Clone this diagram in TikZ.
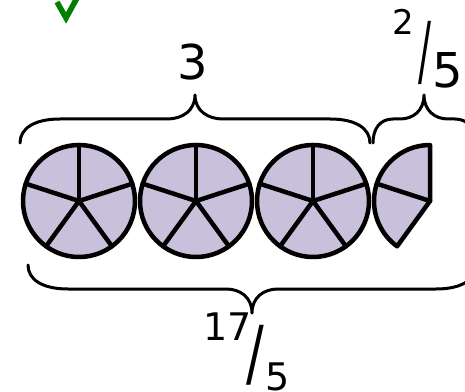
\documentclass[tikz,border=0pt]{standalone}
\usepackage{fontspec}
\setmainfont{DejaVu Sans}
\definecolor{lav}{RGB}{201,192,219}
\definecolor{okgreen}{RGB}{0,128,0}
\newcommand{\mybrace}[7]{%
  \pgfmathsetmacro\xc{(#1+#2)/2}%
  \draw[bracestyle] (#1,#3) .. controls (#1,{#3+0.6*(#4-#3)}) and ({#1+0.35*#6},#4) .. ({#1+#6},#4)
    -- ({\xc-#7},#4) .. controls ({\xc-0.45*#7},#4) and (\xc,{#4+0.35*(#5-#4)}) .. (\xc,#5)
    .. controls (\xc,{#4+0.35*(#5-#4)}) and ({\xc+0.45*#7},#4) .. ({\xc+#7},#4)
    -- ({#2-#6},#4) .. controls ({#2-0.35*#6},#4) and (#2,{#3+0.6*(#4-#3)}) .. (#2,#3);}
\newcommand{\glyphat}[4]{\hspace*{#1}\makebox[0pt]{\raisebox{#2}{\fontsize{#3}{#3}\selectfont #4}}}
\begin{document}
\begin{tikzpicture}[x=1pt,y=1pt,
  bracestyle/.style={line width=3pt,line cap=round,line join=round},
  pie/.style={line width=4.5pt,line join=round,line cap=round},
  numtxt/.style={inner sep=0pt}]
\useasboundingbox (0,0) rectangle (465,391);
\clip (0,0) rectangle (465,391);
% circles
\foreach \i/\cx in {1/79,2/196,3/313}{
  \coordinate (c\i) at (\cx,190);
  \fill[lav] (c\i) circle (56);
  \foreach \a in {90,162,234,306,18}
    \draw[pie] (c\i) -- ++(\a:56);
  \draw[pie] (c\i) circle (56);
}
% two fifths
\coordinate (w) at (430,190);
\filldraw[pie,fill=lav] (w) -- ++(90:56) arc (90:234:56) -- cycle;
\draw[pie] (w) -- ++(162:56);
% braces
\mybrace{20}{370}{248}{272}{296}{40}{28}
\mybrace{373}{475}{248}{272}{296}{20}{24}
\mybrace{28}{476}{126}{102}{78}{40}{26}
% labels
\node[numtxt,anchor=center,font=\fontsize{48}{48}\selectfont] (n3) at (193,329) {3};
\node[numtxt,anchor=base west] (f1) at (390,303)
  {\glyphat{13pt}{53pt}{34}{2}\glyphat{21.5pt}{10pt}{77}{\scalebox{0.5}[1]{/}}\glyphat{23pt}{0pt}{48}{5}\hspace*{10pt}};
\node[numtxt,anchor=base west] (f2) at (210,1)
  {\glyphat{17.5pt}{50pt}{38}{17}\glyphat{28pt}{12pt}{73}{\scalebox{0.72}[1]{/}}\glyphat{21.5pt}{0pt}{38}{5}\hspace*{10pt}};
% check mark
\draw[okgreen,line width=5.5pt,line join=miter] (57,389) -- (66,373) -- (77,393);
\end{tikzpicture}
\end{document}
